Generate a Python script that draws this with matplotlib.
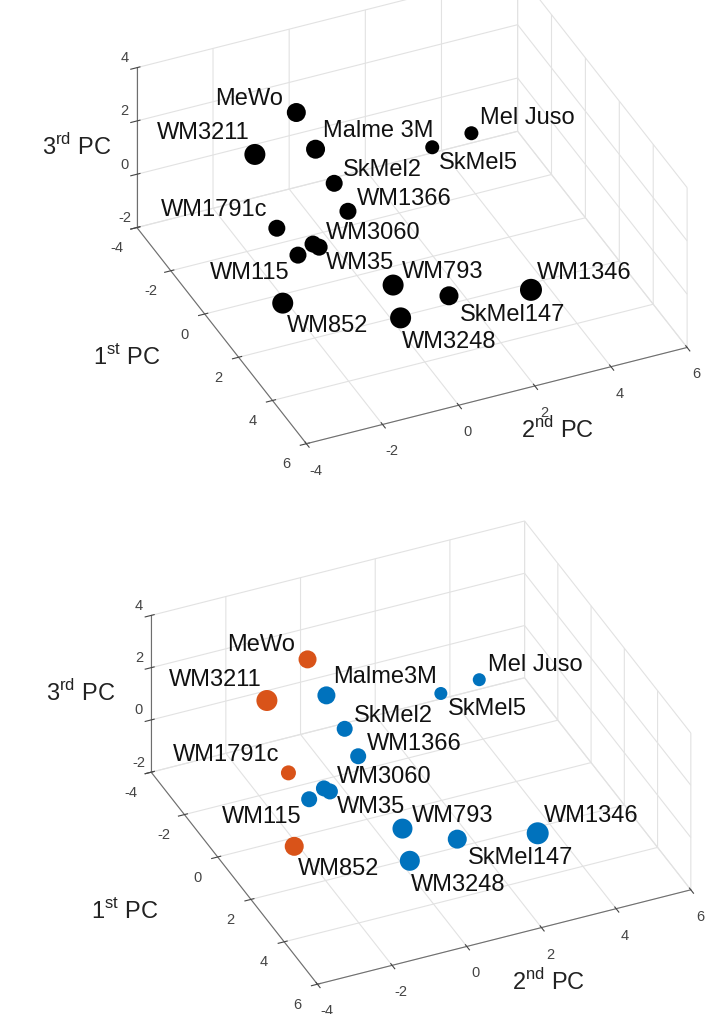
import matplotlib
matplotlib.use("Agg")
import matplotlib.pyplot as plt
import matplotlib.transforms as mtransforms
from mpl_toolkits.mplot3d import proj3d
import numpy as np

plt.rcParams['font.family'] = ['Liberation Sans', 'DejaVu Sans']
plt.rcParams['axes.unicode_minus'] = False

W, H = 709, 1014

# PCA scores of the melanoma cell lines
cells = ["MeWo", "WM3211", "Malme 3M", "SkMel5", "Mel Juso", "SkMel2", "WM1366", "WM1791c",
         "WM3060", "WM35", "WM115", "WM793", "WM852", "WM3248", "SkMel147", "WM1346"]
cells_b = ["MeWo", "WM3211", "Malme3M", "SkMel5", "Mel Juso", "SkMel2", "WM1366", "WM1791c",
           "WM3060", "WM35", "WM115", "WM793", "WM852", "WM3248", "SkMel147", "WM1346"]
pc1 = [-2.77, -2.07, -1.68, -1.13, -1.29, -1.21, -0.51, -0.55,
       0.08, -0.10, 0.18, 1.75, 1.37, 3.09, 2.71, 3.28]
pc2 = [-0.36, -1.76, -0.34, 2.48, 3.58, -0.06, -0.01, -1.86,
       -1.03, -1.11, -1.63, 0.17, -2.56, -0.23, 1.21, 3.11]
pc3 = [2.0, 1.5, 1.5, 1.0, 1.0, 0.5, 0.0, 0.0,
       -0.5, -0.5, -0.5, -1.0, -1.0, -1.0, -1.0, -1.0]
group = [1, 1, 0, 0, 0, 0, 0, 1, 0, 0, 0, 0, 1, 0, 0, 0]   # 1 = orange cluster

ticks_xy = [-4, -2, 0, 2, 4, 6]
ticks_z = [-2, 0, 2, 4]

# marker diameters (px) and label offsets (px, right/up)
diam_top = [19, 21, 19, 14, 14, 17, 17, 17, 17, 17, 17, 21, 21, 21, 19, 22]
diam_bot = [18, 21, 18, 13, 13, 16, 16, 15, 16, 16, 16, 20, 19, 20, 19, 22]
offs = [(-13, 14, 'right'), (-5, 21, 'right'), (7, 18, 'left'), (7, -16, 'left'),
        (9, 15, 'left'), (9, 13, 'left'), (9, 12, 'left'), (-9, 18, 'right'),
        (7, 14, 'left'), (13, -19, 'left'), (-8, -18, 'right'), (9, 13, 'left'),
        (4, -23, 'left'), (1, -24, 'left'), (11, -19, 'left'), (6, 17, 'left')]

BLUE = '#0072BD'
ORANGE = '#D95319'

fig = plt.figure(figsize=(W / 100, H / 100), dpi=100)


def px(ax, x, y, z):
    xs, ys, _ = proj3d.proj_transform(x, y, z, ax.get_proj())
    return ax.transData.transform((xs, ys))


def fit(ax, a_t, c_t):
    # place the axes so the floor corners land where they are in the figure
    a_t = np.array([a_t[0], H - a_t[1]], float)
    c_t = np.array([c_t[0], H - c_t[1]], float)
    for _ in range(3):
        fig.canvas.draw()
        a = px(ax, -4, -4, -2)
        c = px(ax, 6, 6, -2)
        k = np.linalg.norm(c_t - a_t) / np.linalg.norm(c - a)
        bb = ax.get_position()
        cen = np.array([(bb.x0 + bb.x1) / 2 * W, (bb.y0 + bb.y1) / 2 * H])
        s = bb.width * W * k
        ncen = (a_t + c_t) / 2 - k * ((a + c) / 2 - cen)
        ax.set_position([(ncen[0] - s / 2) / W, (ncen[1] - s / 2) / H, s / W, s / H])


def panel(rect, colors, diam, labels, a_t, c_t, lab_pos):
    ax = fig.add_axes(rect, projection='3d', proj_type='ortho')
    ax.patch.set_alpha(0)
    ax.view_init(elev=34.6, azim=-24)
    ax.set_box_aspect((1, 1, 0.466))
    ax.set_xlim(-4, 6)
    ax.set_ylim(-4, 6)
    ax.set_zlim(-2, 4)
    ax.set_xticks(ticks_xy)
    ax.set_yticks(ticks_xy)
    ax.set_zticks(ticks_z)
    ax.zaxis.set_ticks_position('lower')
    for axis in (ax.xaxis, ax.yaxis, ax.zaxis):
        axis.set_pane_color((1, 1, 1, 0))
        axis.pane.set_edgecolor('#dedede')
        axis.pane.set_linewidth(0.8)
        axis._axinfo['grid'].update(color='#e2e2e2', linewidth=0.8)
        axis._axinfo['axisline'].update(color='#6e6e6e', linewidth=1.0)
        axis.line.set_color('#6e6e6e')
    ax.tick_params(axis='both', labelsize=10.5, colors='#444444', pad=4)
    ax.tick_params(axis='z', labelsize=10.5, colors='#444444', pad=-3)

    s = [(d * 0.72) ** 2 for d in diam]
    ax.scatter(pc1, pc2, pc3, s=s, c=colors, depthshade=False, linewidths=0, alpha=1)
    for i, lab in enumerate(labels):
        dx, dy, ha = offs[i]
        t = ax.text(pc1[i], pc2[i], pc3[i], lab, ha=ha, va='center', fontsize=17, color='#111111')
        t.set_transform(mtransforms.offset_copy(ax.transData, fig=fig, x=dx, y=dy, units='dots'))

    fit(ax, a_t, c_t)
    # MATLAB sets the z tick labels a little above their ticks
    for lab in ax.zaxis.get_ticklabels():
        lab.set_verticalalignment('bottom')

    names = ['3$^{\\mathregular{rd}}$ PC', '1$^{\\mathregular{st}}$ PC', '2$^{\\mathregular{nd}}$ PC']
    for name, (x, y) in zip(names, lab_pos):
        fig.text(x / W, 1 - y / H, name, ha='center', va='center', fontsize=17, color='#222222')
    return ax


top_colors = ['black'] * len(cells)
bot_colors = [ORANGE if g else BLUE for g in group]

panel([0.05, 0.5, 0.9, 0.5], top_colors, diam_top, cells, (137, 227), (687, 348),
      [(77, 147), (127, 357), (557, 430)])
panel([0.05, 0.0, 0.9, 0.5], bot_colors, diam_bot, cells_b, (151, 773), (691, 889),
      [(81, 693), (125, 910), (548, 982)])

fig.savefig('out.png', dpi=100)
